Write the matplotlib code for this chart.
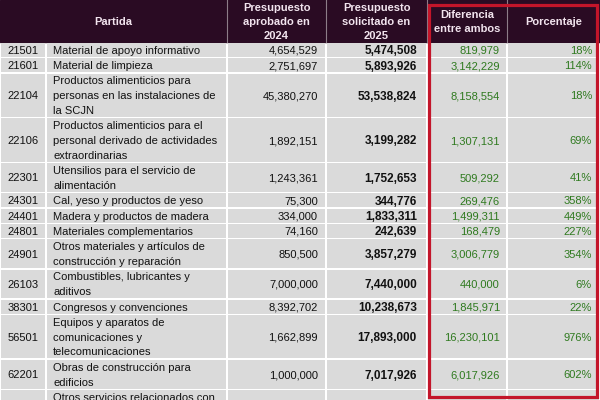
import matplotlib
matplotlib.use("Agg")
import matplotlib.pyplot as plt
from matplotlib.patches import Rectangle

plt.rcParams['font.family'] = ['Liberation Sans', 'DejaVu Sans']

# datos de la tabla
encabezados = ["Partida", "Presupuesto\naprobado en\n2024", "Presupuesto\nsolicitado en\n2025",
               "Diferencia\nentre ambos", "Porcentaje"]
codigos = ["21501", "21601", "22104", "22106", "22301", "24301", "24401", "24801",
           "24901", "26103", "38301", "56501", "62201"]
partidas = [
    "Material de apoyo informativo",
    "Material de limpieza",
    "Productos alimenticios para\npersonas en las instalaciones de\nla SCJN",
    "Productos alimenticios para el\npersonal derivado de actividades\nextraordinarias",
    "Utensilios para el servicio de\nalimentación",
    "Cal, yeso y productos de yeso",
    "Madera y productos de madera",
    "Materiales complementarios",
    "Otros materiales y artículos de\nconstrucción y reparación",
    "Combustibles, lubricantes y\naditivos",
    "Congresos y convenciones",
    "Equipos y aparatos de\ncomunicaciones y\ntelecomunicaciones",
    "Obras de construcción para\nedificios",
]
aprobado_2024 = [4654529, 2751697, 45380270, 1892151, 1243361, 75300, 334000, 74160,
                 850500, 7000000, 8392702, 1662899, 1000000]
solicitado_2025 = [5474508, 5893926, 53538824, 3199282, 1752653, 344776, 1833311, 242639,
                   3857279, 7440000, 10238673, 17893000, 7017926]
diferencia = [819979, 3142229, 8158554, 1307131, 509292, 269476, 1499311, 168479,
              3006779, 440000, 1845971, 16230101, 6017926]
porcentaje = [18, 114, 18, 69, 41, 358, 449, 227, 354, 6, 22, 976, 602]
partida_cortada = "Otros servicios relacionados con"

# estilo
HEADER_BG = "#2a0b23"
HEADER_FG = "#f2e4ee"
ROW_BG = "#dadada"
GREEN = "#2f7a1f"
RED = "#c3152a"
FS = 8

cols = [0, 46, 227, 326, 427, 507, 600]
header_h = 42
line_h = 14.7

fig = plt.figure(figsize=(6, 4), dpi=100)
ax = fig.add_axes([0, 0, 1, 1])
ax.set_xlim(0, 600)
ax.set_ylim(400, 0)
ax.axis('off')

# encabezado
ax.add_patch(Rectangle((0, 0), 600, header_h, color=HEADER_BG, zorder=1))
for x in cols[2:-1]:
    ax.plot([x, x], [0, header_h], color="#8d7d88", lw=0.8, zorder=2)

header_centers = [(cols[0] + cols[2]) / 2] + [(cols[i] + cols[i + 1]) / 2 for i in range(2, 6)]
for xc, txt in zip(header_centers, encabezados):
    lines = txt.split("\n")
    n = len(lines)
    for i, ln in enumerate(lines):
        y = header_h / 2 + (i - (n - 1) / 2) * 14
        ax.text(xc, y, ln, ha='center', va='center_baseline', color=HEADER_FG,
                fontsize=FS, fontweight='bold', zorder=3)


def draw_cells(y0, h):
    for i in range(len(cols) - 1):
        ax.add_patch(Rectangle((cols[i] + 0.7, y0 + 0.7), cols[i + 1] - cols[i] - 1.4, h - 1.4,
                               color=ROW_BG, lw=0, zorder=1))


y0 = header_h
for cod, desc, a, s, d, p in zip(codigos, partidas, aprobado_2024, solicitado_2025,
                                 diferencia, porcentaje):
    lines = desc.split("\n")
    n = len(lines)
    h = 0.7 + line_h * n
    draw_cells(y0, h)
    yc = y0 + h / 2
    ax.text((cols[0] + cols[1]) / 2, yc, cod, ha='center', va='center_baseline',
            fontsize=FS, color="#111111", zorder=3)
    for i, ln in enumerate(lines):
        ax.text(cols[1] + 7, yc + (i - (n - 1) / 2) * line_h, ln, ha='left',
                va='center_baseline', fontsize=FS, color="#111111", zorder=3)
    ax.text(cols[3] - 8, yc, f"{a:,}", ha='right', va='center_baseline',
            fontsize=FS, color="#111111", zorder=3)
    ax.text(cols[4] - 10, yc, f"{s:,}", ha='right', va='center_baseline',
            fontsize=FS + 0.5, fontweight='bold', color="#111111", zorder=3)
    ax.text(cols[5] - 7, yc, f"{d:,}", ha='right', va='center_baseline',
            fontsize=FS, color=GREEN, zorder=3)
    ax.text(cols[6] - 8, yc, f"{p}%", ha='right', va='center_baseline',
            fontsize=FS, color=GREEN, zorder=3)
    y0 += h

# fila cortada al final
draw_cells(y0, 3 * line_h)
ax.text(cols[1] + 7, y0 + line_h / 2, partida_cortada, ha='left', va='center_baseline',
        fontsize=FS, color="#111111", zorder=3)

# recuadro rojo
ax.add_patch(Rectangle((428.5, 5), 168.5, 391.5, fill=False, edgecolor=RED, lw=2.3, zorder=4))

fig.savefig("out.png", dpi=100)
